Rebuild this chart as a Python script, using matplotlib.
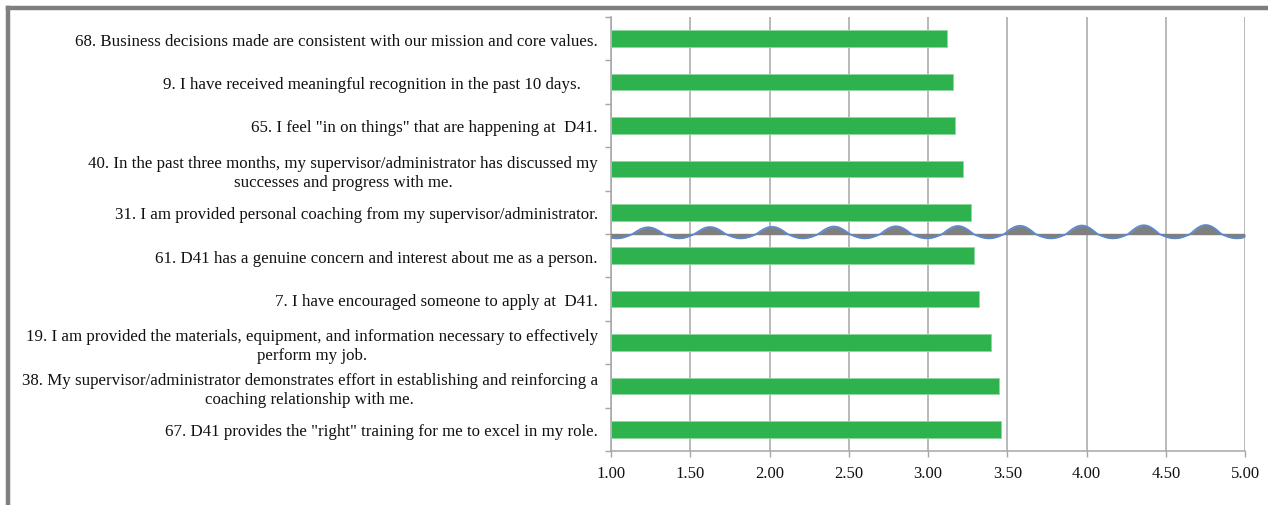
import numpy as np
import matplotlib
matplotlib.use("Agg")
import matplotlib.pyplot as plt
from matplotlib.lines import Line2D

plt.rcParams['font.family'] = ['Liberation Serif', 'DejaVu Serif']

# survey statements, top to bottom as shown
labels = [
    "68. Business decisions made are consistent with our mission and core values.",
    "9. I have received meaningful recognition in the past 10 days.    ",
    "65. I feel \"in on things\" that are happening at  D41.",
    "40. In the past three months, my supervisor/administrator has discussed my\nsuccesses and progress with me.",
    "31. I am provided personal coaching from my supervisor/administrator.",
    "61. D41 has a genuine concern and interest about me as a person.",
    "7. I have encouraged someone to apply at  D41.",
    "19. I am provided the materials, equipment, and information necessary to effectively\nperform my job.",
    "38. My supervisor/administrator demonstrates effort in establishing and reinforcing a\ncoaching relationship with me.",
    "67. D41 provides the \"right\" training for me to excel in my role.",
]
scores = [3.12, 3.16, 3.17, 3.22, 3.27, 3.29, 3.32, 3.40, 3.45, 3.46]
xticks = [1.00, 1.50, 2.00, 2.50, 3.00, 3.50, 4.00, 4.50, 5.00]

bar_color = '#2DB24E'
grid_color = '#A6A6A6'

fig = plt.figure(figsize=(12.68, 5.06), dpi=100)
ax = fig.add_axes([611 / 1268, 1 - 452 / 506, (1245 - 611) / 1268, (452 - 18) / 506])

n = len(labels)
ypos = np.arange(n)[::-1]  # first label at the top
ax.barh(ypos, [s - 1 for s in scores], left=1, height=0.38, color=bar_color,
        edgecolor='#8ED69F', linewidth=0.6, zorder=3)

ax.set_xlim(1, 5)
ax.set_ylim(-0.5, n - 0.5)
ax.set_xticks(xticks)
ax.set_xticklabels(['%.2f' % v for v in xticks], fontsize=12, color='#111111')
ax.set_yticks(ypos)
ax.set_yticklabels(labels, fontsize=12.2, color='#111111', multialignment='center',
                   linespacing=1.25)
ax.set_yticks(np.arange(-0.5, n, 1), minor=True)
ax.tick_params(axis='y', which='major', length=0, pad=9.5)
ax.tick_params(axis='y', which='minor', length=4, color=grid_color, width=1)
ax.tick_params(axis='x', which='major', length=4, color=grid_color, width=1, pad=6)

ax.grid(axis='x', color=grid_color, linewidth=1.1, zorder=0)
ax.set_axisbelow(True)
for side in ['top', 'right']:
    ax.spines[side].set_visible(False)
for side in ['left', 'bottom']:
    ax.spines[side].set_color(grid_color)
    ax.spines[side].set_linewidth(1.1)

# decorative wavy break between rows
brk = 4.5
xs = np.linspace(1, 5, 800)
phase = np.cos(2 * np.pi * (xs - 1.038) / 0.391)
up_amp = np.linspace(0.15, 0.21, xs.size)
wave = np.where(phase < 0, -phase * up_amp, -phase * 0.1)
ax.fill_between(xs, brk, brk + wave, color='#7F7F7F', linewidth=0, zorder=4)
ax.plot([1, 5], [brk, brk], color='#7F7F7F', linewidth=1.0, zorder=4)
ax.plot(xs, brk + wave, color='#5A8AD0', linewidth=1.3, zorder=5)

# outer frame (top and left edges)
fig.add_artist(Line2D([8 / 1268, 1], [1 - 9 / 506, 1 - 9 / 506], color='#7F7F7F',
                      linewidth=3.2, transform=fig.transFigure))
fig.add_artist(Line2D([8 / 1268, 8 / 1268], [0, 1 - 9 / 506], color='#7F7F7F',
                      linewidth=3.2, transform=fig.transFigure))

fig.savefig('out.png', dpi=100)
